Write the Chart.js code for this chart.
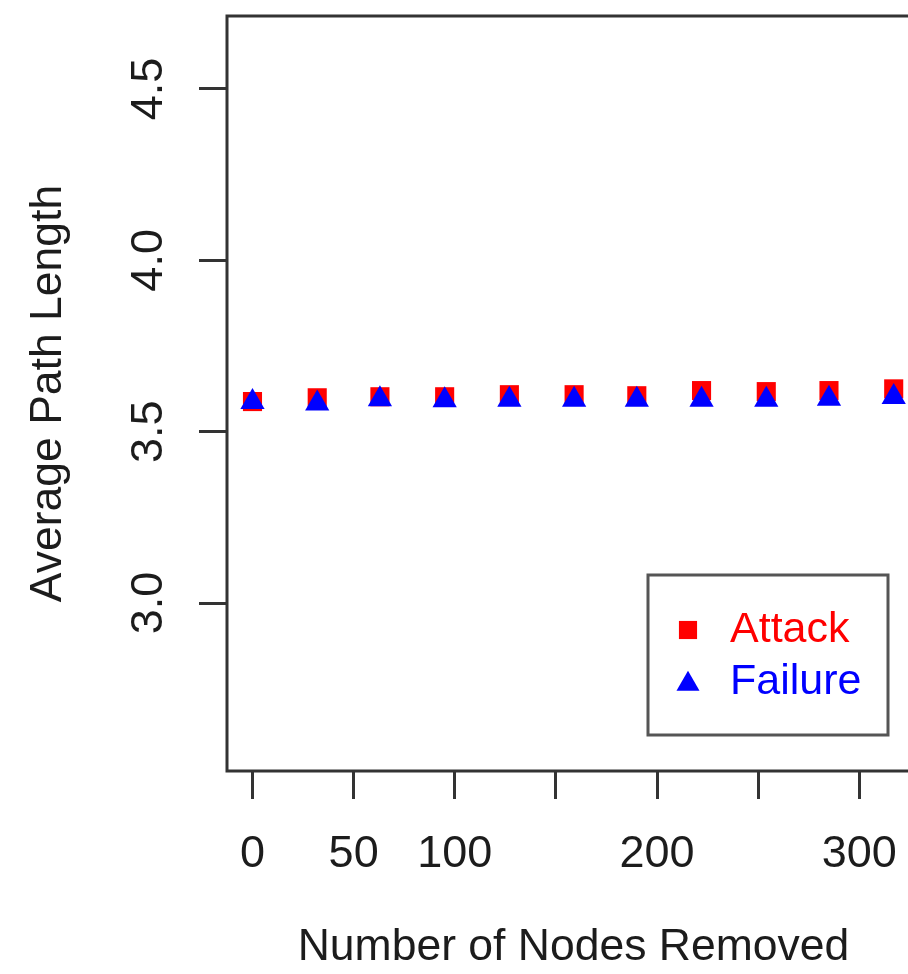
<!DOCTYPE html>
<html>
<head>
<meta charset="utf-8">
<script src="https://cdn.jsdelivr.net/npm/chart.js@4.4.1/dist/chart.umd.min.js"></script>
<style>
html,body{margin:0;padding:0;background:#ffffff;overflow:hidden;width:908px;height:974px;}
#wrap{position:relative;width:960px;height:974px;}
canvas{display:block;}
</style>
</head>
<body>
<div id="wrap"><canvas id="c" width="960" height="974"></canvas></div>
<script>
// ---- data ----
const nodesRemoved = [0, 32, 63, 95, 127, 159, 190, 222, 254, 285, 317];
const attackAPL  = [3.588, 3.599, 3.602, 3.602, 3.608, 3.608, 3.605, 3.620, 3.617, 3.620, 3.625];
const failureAPL = [3.587, 3.582, 3.595, 3.592, 3.593, 3.593, 3.593, 3.593, 3.593, 3.596, 3.601];
const seriesNames = ['Attack', 'Failure'];
const xTicks = [0, 50, 100, 150, 200, 250, 300];
const xTickLabels = ['0', '50', '100', '', '200', '', '300'];
const yTicks = [3.0, 3.5, 4.0, 4.5];
const yTickLabels = ['3.0', '3.5', '4.0', '4.5'];
const xTitle = 'Number of Nodes Removed';
const yTitle = 'Average Path Length';

// ---- styling ----
const FONT = '"Liberation Sans", Arial, Helvetica, sans-serif';
const TXT = '#1c1c1c';
const AX = '#333333';
const RED = '#ff0000';
const BLUE = '#0000ff';

const boxPlugin = {
  id: 'rbox',
  beforeDatasetsDraw(chart) {
    const {ctx, chartArea: a} = chart;
    ctx.save();
    ctx.strokeStyle = AX;
    ctx.lineWidth = 3;
    ctx.lineJoin = 'miter';
    ctx.strokeRect(a.left, a.top, a.right - a.left, a.bottom - a.top);
    ctx.restore();
  }
};

function marker(ctx, style, r, x, y, color) {
  ctx.fillStyle = color;
  if (window.Chart && Chart.helpers && Chart.helpers.drawPoint) {
    Chart.helpers.drawPoint(ctx, {pointStyle: style, radius: r, rotation: 0, borderWidth: 0}, x, y);
    return;
  }
  ctx.beginPath();
  if (style === 'rect') {
    const s = Math.SQRT1_2 * r;
    ctx.rect(x - s, y - s, 2 * s, 2 * s);
  } else {
    ctx.moveTo(x, y - r);
    ctx.lineTo(x + 0.866 * r, y + 0.5 * r);
    ctx.lineTo(x - 0.866 * r, y + 0.5 * r);
    ctx.closePath();
  }
  ctx.fill();
}

const legendPlugin = {
  id: 'rlegend',
  afterDraw(chart) {
    const {ctx, chartArea: a} = chart;
    const L = a.right - 272, R = a.right - 32, T = a.bottom - 196, B = a.bottom - 36;
    ctx.save();
    ctx.fillStyle = '#ffffff';
    ctx.fillRect(L, T, R - L, B - T);
    ctx.strokeStyle = '#555555';
    ctx.lineWidth = 3;
    ctx.strokeRect(L, T, R - L, B - T);
    const dsets = chart.data.datasets;
    ctx.font = '43px ' + FONT;
    ctx.textBaseline = 'middle';
    ctx.textAlign = 'left';
    dsets.forEach((ds, i) => {
      const y = T + 55 + i * 52;
      marker(ctx, ds.pointStyle, ds.pointRadius * 0.95, L + 40, y + (ds.pointStyle === 'triangle' ? 2 : 0), ds.backgroundColor);
      ctx.fillStyle = ds.backgroundColor;
      ctx.fillText(ds.label, L + 82, y);
    });
    ctx.restore();
  }
};

const ctx = document.getElementById('c').getContext('2d');
new Chart(ctx, {
  type: 'scatter',
  data: {
    datasets: [
      {
        label: seriesNames[0],
        data: nodesRemoved.map((x, i) => ({x: x, y: attackAPL[i]})),
        pointStyle: 'rect',
        pointRadius: 13.5,
        backgroundColor: RED,
        borderWidth: 0,
        showLine: false,
        clip: false,
        order: 2
      },
      {
        label: seriesNames[1],
        data: nodesRemoved.map((x, i) => ({x: x, y: failureAPL[i]})),
        pointStyle: 'triangle',
        pointRadius: 14,
        backgroundColor: BLUE,
        borderWidth: 0,
        showLine: false,
        clip: false,
        order: 1
      }
    ]
  },
  options: {
    responsive: false,
    devicePixelRatio: 1,
    animation: false,
    events: [],
    layout: {padding: {top: 16, right: 40, bottom: 0, left: 0}},
    plugins: {legend: {display: false}, tooltip: {enabled: false}},
    scales: {
      x: {
        type: 'linear',
        min: -12.6,
        max: 330,
        afterBuildTicks: s => { s.ticks = xTicks.map(v => ({value: v})); },
        afterFit: s => { s.height = 203; s.paddingLeft = 0; s.paddingRight = 0; },
        grid: {drawOnChartArea: false, drawTicks: true, tickLength: 28, tickWidth: 3, tickColor: AX, lineWidth: 3, color: AX},
        border: {display: false},
        ticks: {
          padding: 29, autoSkip: false, minRotation: 0, maxRotation: 0,
          font: {family: FONT, size: 45}, color: TXT,
          callback: v => { const k = xTicks.indexOf(v); return k >= 0 ? xTickLabels[k] : ''; }
        },
        title: {display: true, text: xTitle, font: {family: FONT, size: 44.5}, color: TXT, padding: {top: 0, bottom: 0}}
      },
      y: {
        type: 'linear',
        min: 2.51,
        max: 4.713,
        afterBuildTicks: s => { s.ticks = yTicks.map(v => ({value: v})); },
        afterFit: s => { s.width = 227; s.paddingTop = 0; s.paddingBottom = 0; },
        grid: {drawOnChartArea: false, drawTicks: true, tickLength: 28, tickWidth: 3, tickColor: AX, lineWidth: 3, color: AX},
        border: {display: false},
        ticks: {
          padding: 18, autoSkip: false, minRotation: 90, maxRotation: 90, crossAlign: 'center',
          font: {family: FONT, size: 45}, color: TXT,
          callback: v => { const k = yTicks.indexOf(v); return k >= 0 ? yTickLabels[k] : ''; }
        },
        title: {display: true, text: yTitle, font: {family: FONT, size: 44.5}, color: TXT, padding: {top: 22, bottom: 0}}
      }
    }
  },
  plugins: [boxPlugin, legendPlugin]
});
</script>
</body>
</html>
